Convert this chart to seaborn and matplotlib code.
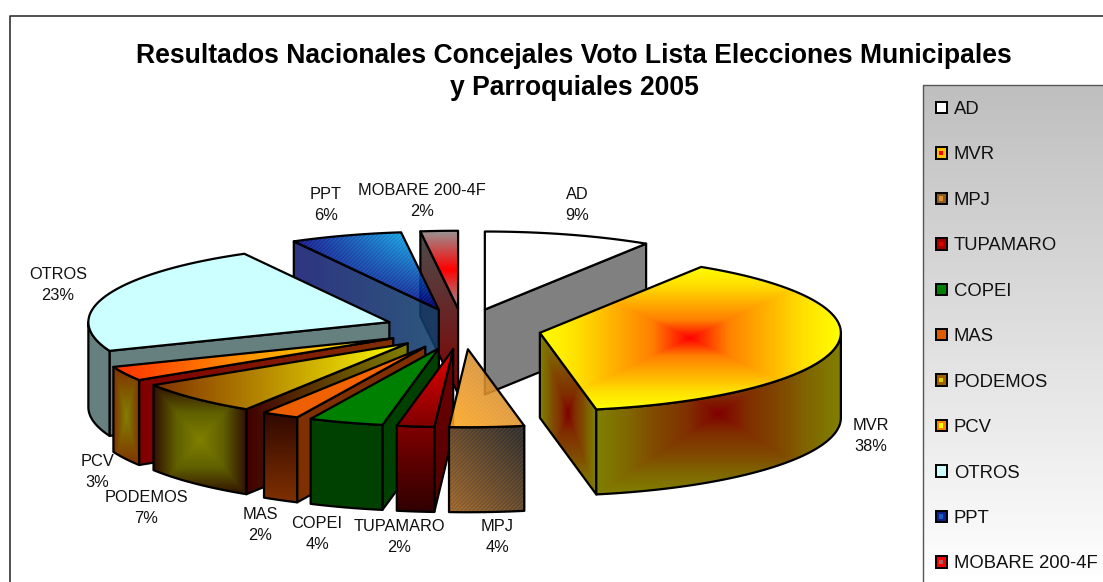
import numpy as np
import matplotlib
matplotlib.use("Agg")
import matplotlib.pyplot as plt
from matplotlib.patches import Polygon, Rectangle
from matplotlib.legend_handler import HandlerBase
import seaborn as sns

# data, clockwise from 12 o'clock
partidos = ["AD", "MVR", "MPJ", "TUPAMARO", "COPEI", "MAS", "PODEMOS", "PCV", "OTROS", "PPT", "MOBARE 200-4F"]
porcentajes = [9, 38, 4, 2, 4, 2, 7, 3, 23, 6, 2]
titulo = "Resultados Nacionales Concejales Voto Lista Elecciones Municipales\ny Parroquiales 2005"

# pie geometry in pixels
CX, CY = 463, 329
RX, RY = 301, 78
EXPLODE = 0.26
DEPTH = 85

# where each data label sits
label_pos = {
    "AD": (577, 205), "MVR": (871, 436), "MPJ": (497, 537), "TUPAMARO": (399, 537),
    "COPEI": (317, 534), "MAS": (260, 525), "PODEMOS": (146, 508), "PCV": (97, 472),
    "OTROS": (58, 285), "PPT": (326, 205), "MOBARE 200-4F": (422, 201),
}

# fills: (colours, mode, dither); the first colour is where t = 0
top_style = {
    "AD": (["#ffffff", "#ffffff"], "h", 0),
    "MVR": (["#ff0000", "#ff8000", "#ffb000", "#ffe000", "#ffff00"], "box", 0),
    "MPJ": (["#ffa61a", "#c08040"], "up", 0.08),
    "TUPAMARO": (["#e60000", "#800000"], "v", 0),
    "COPEI": (["#008000", "#008000"], "h", 0),
    "MAS": (["#e85c00", "#ff6a00"], "h", 0),
    "PODEMOS": (["#803000", "#ffff00"], "h", 0),
    "PCV": (["#ff3000", "#ffff00"], "h", 0),
    "OTROS": (["#ccffff", "#ccffff"], "h", 0),
    "PPT": (["#000080", "#00ccff"], "corner", 0.06),
    "MOBARE 200-4F": (["#ff0000", "#969696"], "mirror", 0),
}
wall_style = {
    "MVR": (["#800000", "#803000", "#804800", "#806800", "#808000"], "box", 0),
    "MPJ": (["#a06a30", "#303030"], "up", 0.1),
    "TUPAMARO": (["#800000", "#300000"], "v", 0),
    "COPEI": (["#004000", "#004000"], "h", 0),
    "MAS": (["#300800", "#803000"], "v", 0),
    "PODEMOS": (["#808000", "#606000", "#301000"], "box", 0),
    "PCV": (["#808000", "#803000"], "box", 0),
    "OTROS": (["#668080", "#668080"], "h", 0),
}
face_style = {
    "AD": (["#808080", "#808080"], "h", 0),
    "MVR": (["#800000", "#803000", "#804800", "#806800", "#808000"], "box", 0),
    "TUPAMARO": (["#700000", "#500000"], "v", 0),
    "COPEI": (["#004000", "#004000"], "h", 0),
    "MAS": (["#803000", "#803000"], "h", 0),
    "PODEMOS": (["#400000", "#808000"], "h", 0),
    "PCV": (["#800000", "#803000"], "h", 0),
    "OTROS": (["#668080", "#668080"], "h", 0),
    "PPT": (["#101870", "#10406a"], "h", 0.08),
    "MOBARE 200-4F": (["#4d4d4d", "#800000"], "v", 0),
}
swatch_colors = {
    "AD": ("#ffffff", "#ffffff"), "MVR": ("#ffc000", "#ff0000"), "MPJ": ("#8a5a20", "#e09030"),
    "TUPAMARO": ("#a00000", "#e00000"), "COPEI": ("#008000", "#008000"), "MAS": ("#e05a00", "#e05a00"),
    "PODEMOS": ("#a06000", "#e0d000"), "PCV": ("#ff8000", "#ffff00"), "OTROS": ("#ccffff", "#ccffff"),
    "PPT": ("#10208a", "#1060c0"), "MOBARE 200-4F": ("#ff0000", "#b06060"),
}
draw_order = ["AD", "MOBARE 200-4F", "PPT", "OTROS", "PCV", "PODEMOS", "MAS", "COPEI", "TUPAMARO", "MVR", "MPJ"]

sns.set_theme(style="white")
plt.rcParams["font.family"] = ["Liberation Sans", "DejaVu Sans"]

fig = plt.figure(figsize=(11.03, 5.82), dpi=100)
ax = fig.add_axes([0, 0, 1, 1])
ax.set_axis_off()
z = [10]


def point(cx, cy, deg):
    a = np.radians(deg)
    return cx + RX * np.sin(a), cy - RY * np.cos(a)


def paint(poly, style, alpha=1.0):
    colors, mode, dither = style
    poly = np.array(poly)
    x0, y0 = np.floor(poly.min(axis=0))
    x1, y1 = np.ceil(poly.max(axis=0))
    w, h = max(int(x1 - x0), 2), max(int(y1 - y0), 2)
    u, v = np.meshgrid(np.linspace(0, 1, w), np.linspace(0, 1, h))
    if mode == "h":
        t = u
    elif mode == "v":
        t = v
    elif mode == "up":
        t = (u + 1 - v) / 2
    elif mode == "corner":
        t = u * (1 - v)
    elif mode == "mirror":
        t = np.abs(2 * v - 1)
    else:
        t = np.maximum(np.abs(2 * u - 1), np.abs(2 * v - 1))
    if dither:
        i, j = np.indices(t.shape)
        t = t + dither * (((i + j) % 4 < 2) * 2 - 1)
    cmap = sns.blend_palette(colors, as_cmap=True)
    z[0] += 1
    img = ax.imshow(np.clip(t, 0, 1), extent=(x0, x1, y1, y0), cmap=cmap, vmin=0, vmax=1,
                    aspect="auto", interpolation="nearest", alpha=alpha, zorder=z[0])
    clip = Polygon(poly, closed=True, transform=ax.transData)
    img.set_clip_path(clip)
    z[0] += 1
    ax.add_patch(Polygon(poly, closed=True, fill=False, ec="black", lw=1.6, joinstyle="round", zorder=z[0]))


# start and end angle of every slice, from the values
total = sum(porcentajes)
ends = np.cumsum(porcentajes) / total * 360
starts = ends - np.array(porcentajes) / total * 360
angles = {p: (a, b) for p, a, b in zip(partidos, starts, ends)}

for name in draw_order:
    a1, a2 = angles[name]
    mid = np.radians((a1 + a2) / 2)
    ax_c = CX + EXPLODE * RX * np.sin(mid)
    ay_c = CY - EXPLODE * RY * np.cos(mid)
    apex = (ax_c, ay_c)
    alpha = 0.88 if name in ("MPJ", "PPT") else 1.0

    # radial faces that look towards the viewer
    for deg, seen in ((a2, np.sin(np.radians(a2)) > 0), (a1, np.sin(np.radians(a1)) < 0)):
        if seen and name in face_style:
            px, py = point(ax_c, ay_c, deg)
            paint([apex, (px, py), (px, py + DEPTH), (apex[0], apex[1] + DEPTH)], face_style[name], alpha)

    # outer wall, only the front half of the circle shows
    w1, w2 = max(a1, 90), min(a2, 270)
    if w1 < w2 and name in wall_style:
        degs = np.linspace(w1, w2, 80)
        xs, ys = point(ax_c, ay_c, degs)
        wall = list(zip(xs, ys)) + list(zip(xs[::-1], ys[::-1] + DEPTH))
        paint(wall, wall_style[name])

    # top of the slice
    degs = np.linspace(a1, a2, 120)
    xs, ys = point(ax_c, ay_c, degs)
    paint([apex] + list(zip(xs, ys)), top_style[name], alpha)

for name, val in zip(partidos, porcentajes):
    x, y = label_pos[name]
    ax.text(x, y, f"{name}\n{val}%", ha="center", va="center", fontsize=11.8, color="#111111",
            linespacing=1.45, zorder=200)

ax.text(574, 72, titulo, ha="center", va="center", fontsize=19.1, fontweight="bold", color="black",
        linespacing=1.29, zorder=200)

# outer chart frame, open on the right like the source
ax.plot([10, 10, 1103], [582, 15.5, 15.5], color="#222222", lw=1.1, zorder=1)

# legend box with its grey fade
fade = sns.blend_palette(["#bfbfbf", "#ffffff"], as_cmap=True)
ax.imshow(np.linspace(0, 1, 100)[:, None], extent=(923, 1103, 582, 85), cmap=fade, aspect="auto", zorder=150)
ax.plot([923, 923, 1103], [582, 85, 85], color="#555555", lw=1.0, zorder=151)


class SwatchHandler(HandlerBase):
    def create_artists(self, legend, orig, xd, yd, width, height, fontsize, trans):
        outer = Rectangle((-xd, -yd), width, height, fc=orig.get_edgecolor(), ec="black", lw=1.4, transform=trans)
        inner = Rectangle((-xd + width * 0.3, -yd + height * 0.3), width * 0.4, height * 0.4,
                          fc=orig.get_facecolor(), ec="none", transform=trans)
        return [outer, inner]


handles = [Rectangle((0, 0), 1, 1, edgecolor=swatch_colors[p][0], facecolor=swatch_colors[p][1]) for p in partidos]
leg = ax.legend(handles, partidos, handler_map={Rectangle: SwatchHandler()}, frameon=False,
                loc="upper left", bbox_to_anchor=(936, 101), bbox_transform=ax.transData,
                fontsize=13.3, labelspacing=1.54, handlelength=0.58, handleheight=0.58, handletextpad=0.38,
                borderpad=0, borderaxespad=0, labelcolor="#111111")
leg.set_zorder(160)

ax.set_xlim(0, 1103)
ax.set_ylim(582, 0)
fig.savefig("out.png", dpi=100)
